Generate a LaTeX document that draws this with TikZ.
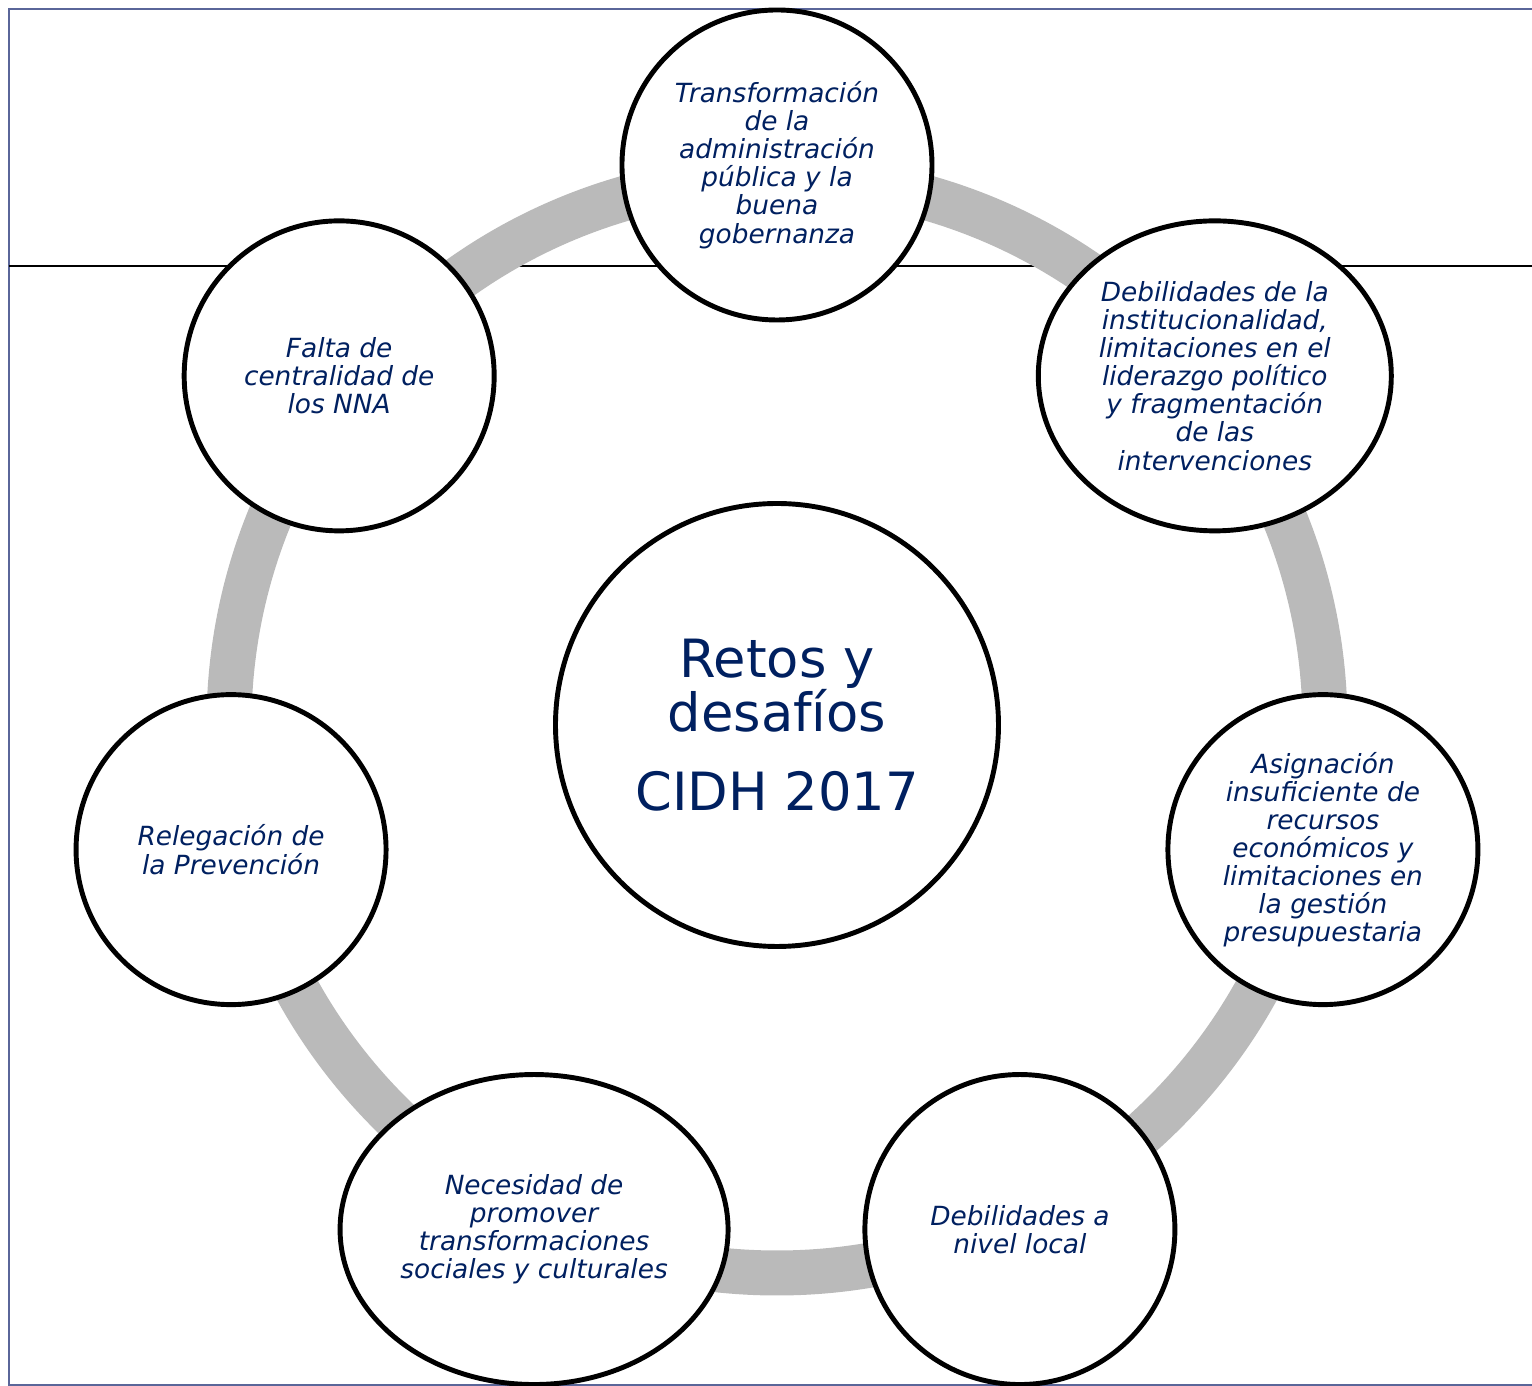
\documentclass[tikz,border=0pt]{standalone}
\usepackage{fontspec}
\setmainfont{DejaVu Sans}
\usetikzlibrary{shapes.geometric}

\definecolor{azul}{HTML}{002060}
\definecolor{anillo}{HTML}{BABABA}
\definecolor{marco}{HTML}{5A6699}

\begin{document}
\begin{tikzpicture}[semithick, font=\itshape\fontsize{15}{16}\selectfont]
\tikzstyle{reto}=[circle, draw=black, line width=2.8pt, fill=white, text=azul, align=center, minimum size=6.2cm, inner sep=0pt]
\tikzstyle{reto ancho}=[reto, ellipse, minimum height=6.2cm]
\useasboundingbox (-15.54,-13.22) rectangle (15.10,14.5);
% marco y linea de fondo
\draw[marco, line width=1.1pt] (15.4,14.32) -- (-15.36,14.32) -- (-15.36,-13.2) -- (15.4,-13.2);
\draw[line width=0.8pt] (-15.36,9.18) -- (15.10,9.18);
\draw[anillo, line width=0.9cm] (0,0) circle (10.96);
\node[reto, minimum size=8.86cm, font=\upshape\fontsize{30}{31}\selectfont] (centro) at (0,0) {Retos y\\desafíos\\[14pt]CIDH 2017};
\node[reto] (transf) at (90:11.2) {Transformación\\de la\\administración\\pública y la\\buena\\gobernanza};
\node[reto ancho, minimum width=7.06cm] (inst) at (38.57:11.2) {Debilidades de la\\institucionalidad,\\limitaciones en el\\liderazgo político\\y fragmentación\\de las\\intervenciones};
\node[reto] (recursos) at (-12.86:11.2) {Asignación\\insuficiente de\\recursos\\económicos y\\limitaciones en\\la gestión\\presupuestaria};
\node[reto] (local) at (-64.29:11.2) {Debilidades a\\nivel local};
\node[reto ancho, minimum width=7.76cm] (social) at (-115.71:11.2) {Necesidad de\\promover\\transformaciones\\sociales y culturales};
\node[reto] (prev) at (-167.14:11.2) {Relegación de\\la Prevención};
\node[reto] (nna) at (141.43:11.2) {Falta de\\centralidad de\\los NNA};
\end{tikzpicture}
\end{document}
